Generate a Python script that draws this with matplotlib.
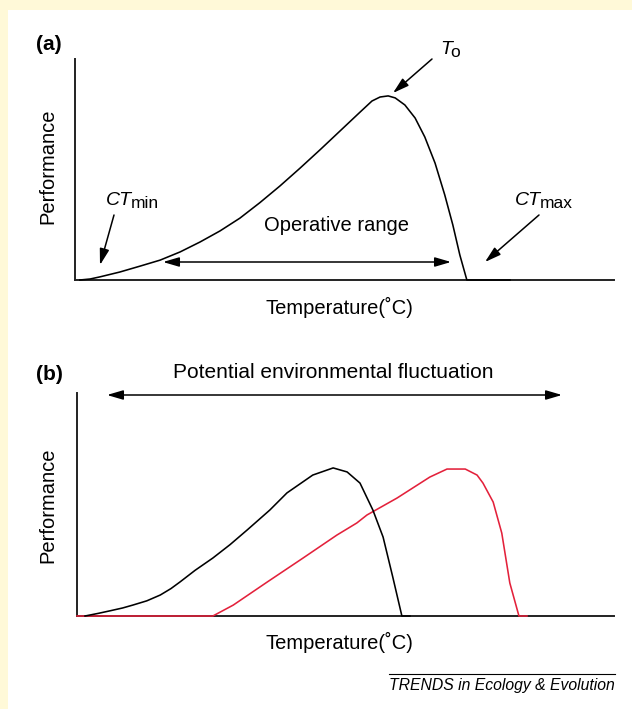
import matplotlib
matplotlib.use("Agg")
import matplotlib.pyplot as plt
from matplotlib.patches import Rectangle, FancyArrowPatch

plt.rcParams['font.family'] = ['Liberation Sans', 'DejaVu Sans']

# ---------------- data ----------------
# Panel (a): thermal performance curve (temperature 0-100 arbitrary, performance 0-100)
temp_a = [0.9, 2.8, 4.6, 8.3, 12.1, 15.8, 19.5, 23.2, 26.9, 30.6, 34.3, 38.0, 41.7,
          45.5, 49.2, 52.9, 55.1, 56.6, 58.1, 59.4, 61.2, 63.1, 64.9, 66.8, 68.6,
          70.1, 71.4, 72.7, 75.1, 80.7]
perf_a = [0.0, 0.45, 1.4, 3.6, 6.3, 9.0, 12.7, 17.2, 22.2, 28.0, 35.0, 42.5, 50.5,
          59.0, 67.5, 76.0, 81.0, 82.8, 83.3, 82.4, 79.2, 73.3, 64.7, 52.9, 38.5,
          24.9, 11.3, 0.0, 0.0, 0.0]

# Panel (b): original curve (black) and shifted curve (red)
temp_b_black = [1.5, 4.0, 6.1, 8.5, 10.4, 13.0, 15.5, 17.5, 19.2, 22.0, 25.3, 28.5,
                31.7, 35.9, 39.1, 43.9, 47.7, 50.3, 52.7, 55.1, 57.0, 58.8, 60.5, 62.0]
perf_b_black = [0.0, 1.2, 2.3, 3.6, 4.9, 6.8, 9.4, 12.3, 15.3, 20.5, 26.0, 32.0,
                38.6, 47.5, 55.2, 63.2, 66.4, 64.6, 59.6, 47.5, 35.4, 17.5, 0.0, 0.0]
temp_b_red = [0.0, 25.3, 29.1, 35.4, 42.1, 48.4, 52.1, 54.0, 59.6, 65.7, 68.9,
              72.3, 74.5, 75.6, 77.5, 79.1, 80.6, 82.3, 83.8]
perf_b_red = [0.0, 0.0, 4.9, 15.2, 26.0, 36.3, 41.7, 45.3, 52.9, 62.3, 65.9,
              65.9, 63.2, 59.6, 51.1, 37.2, 14.8, 0.0, 0.0]

panel_labels = ["(a)", "(b)"]
x_label = "Temperature(˚C)"
y_label = "Performance"
footer = "TRENDS in Ecology & Evolution"

# ---------------- layout helpers (pixels from top-left) ----------------
W, H = 632, 709
def fx(x): return x / W
def fy(y): return 1 - y / H

fig = plt.figure(figsize=(W / 100, H / 100), dpi=100)
fig.patch.set_facecolor('#FFF9D8')
fig.add_artist(Rectangle((fx(8), 0), 1 - fx(8), fy(10), transform=fig.transFigure,
                         facecolor='white', edgecolor='none', zorder=0))

RED = '#E3213B'
AXC = '#222222'

def make_axes(l, t, r, b):
    ax = fig.add_axes([fx(l), fy(b), fx(r) - fx(l), fy(t) - fy(b)])
    ax.set_xlim(0, 100)
    ax.set_ylim(0, 100)
    ax.patch.set_alpha(0)
    for s in ['top', 'right']:
        ax.spines[s].set_visible(False)
    for s in ['left', 'bottom']:
        ax.spines[s].set_linewidth(1.4)
        ax.spines[s].set_color(AXC)
    ax.set_xticks([])
    ax.set_yticks([])
    return ax

ax_a = make_axes(75, 59, 614, 280)
ax_b = make_axes(77, 393, 614, 616)

ax_a.plot(temp_a, perf_a, color='black', lw=1.15, clip_on=False, zorder=3)
ax_b.plot(temp_b_red, perf_b_red, color=RED, lw=1.15, clip_on=False, zorder=3)
ax_b.plot(temp_b_black, perf_b_black, color='black', lw=1.15, clip_on=False, zorder=4)

FS = 14.5

def ftext(x, y, s, **kw):
    kw.setdefault('fontsize', FS)
    return fig.text(fx(x), fy(y), s, **kw)

def arrow(x0, y0, x1, y1, style='-|>'):
    a = FancyArrowPatch((fx(x0), fy(y0)), (fx(x1), fy(y1)), transform=fig.transFigure,
                        arrowstyle=style + ',head_length=0.75,head_width=0.22',
                        mutation_scale=13, color='black', lw=1.1, shrinkA=0, shrinkB=0)
    fig.add_artist(a)

# panel labels
ftext(36, 44, panel_labels[0], fontweight='bold', ha='left', va='center', fontsize=15)
ftext(36, 375, panel_labels[1], fontweight='bold', ha='left', va='center', fontsize=15)

# axis labels
ftext(339, 307, x_label, ha='center', va='center')
ftext(339, 642, x_label, ha='center', va='center')
ftext(48, 166, y_label, ha='center', va='center', rotation=90)
ftext(48, 505, y_label, ha='center', va='center', rotation=90)

# subscripted labels
fig.canvas.draw()
renderer = fig.canvas.get_renderer()
def sub_label(x, y, main, sub, fs=14):
    t = ftext(x, y, main, fontstyle='italic', ha='left', va='baseline', fontsize=fs)
    bb = t.get_window_extent(renderer)
    fig.text(bb.x1 / W - fx(1.5), fy(y + 3), sub, ha='left', va='baseline', fontsize=fs - 1.5)

sub_label(106, 205, "CT", "min")
sub_label(515, 205, "CT", "max")
sub_label(440, 54, "T", "o")

# arrows (a)
arrow(432, 59, 393, 93)
arrow(114, 215, 100, 265)
arrow(539, 215, 485, 262)
arrow(163, 262, 451, 262, style='<|-|>')
ftext(337, 226, "Operative range", ha='center', va='center')

# arrows (b)
ftext(333, 373, "Potential environmental fluctuation", ha='center', va='center', fontsize=15)
arrow(107, 395, 562, 395, style='<|-|>')

# footer
fig.add_artist(plt.Line2D([fx(389), fx(615)], [fy(674), fy(674)], transform=fig.transFigure,
                          color='black', lw=0.8))
ftext(615, 690, footer, ha='right', va='baseline', fontstyle='italic', fontsize=11.3)

fig.savefig('out.png', dpi=100, facecolor=fig.get_facecolor())
